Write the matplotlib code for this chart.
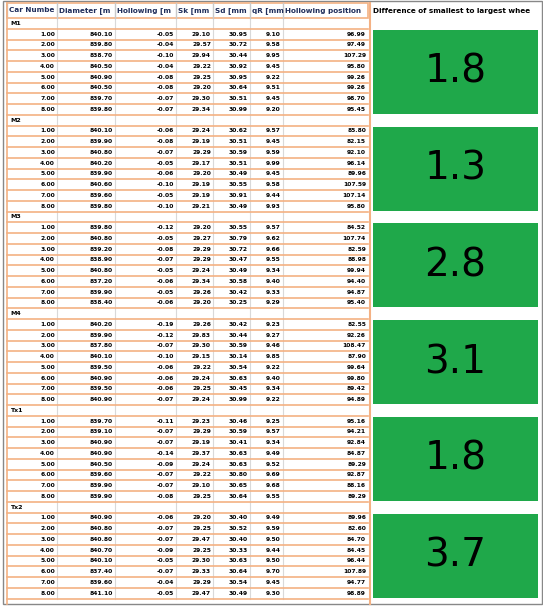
import matplotlib.pyplot as plt
import numpy as np

headers = ["Car Numbe", "Diameter [m", "Hollowing [m", "Sk [mm", "Sd [mm", "qR [mm", "Hollowing position"]
diff_header = "Difference of smallest to largest whee"
groups = ["M1", "M2", "M3", "M4", "Tx1", "Tx2"]
differences = [1.8, 1.3, 2.8, 3.1, 1.8, 3.7]

car = [1, 2, 3, 4, 5, 6, 7, 8]
diameter = [
    [840.10, 839.80, 838.70, 840.50, 840.90, 840.50, 839.70, 839.80],
    [840.10, 839.90, 840.80, 840.20, 839.90, 840.60, 839.60, 839.80],
    [839.80, 840.80, 839.20, 838.90, 840.80, 837.20, 839.90, 838.40],
    [840.20, 839.90, 837.80, 840.10, 839.50, 840.90, 839.50, 840.90],
    [839.70, 839.10, 840.90, 840.90, 840.50, 839.60, 839.90, 839.90],
    [840.90, 840.80, 840.80, 840.70, 840.10, 837.40, 839.60, 841.10],
]
hollowing = [
    [-0.05, -0.04, -0.10, -0.04, -0.08, -0.08, -0.07, -0.07],
    [-0.06, -0.08, -0.07, -0.05, -0.06, -0.10, -0.05, -0.10],
    [-0.12, -0.05, -0.08, -0.07, -0.05, -0.06, -0.05, -0.06],
    [-0.19, -0.12, -0.07, -0.10, -0.06, -0.06, -0.06, -0.07],
    [-0.11, -0.07, -0.07, -0.14, -0.09, -0.07, -0.07, -0.08],
    [-0.06, -0.07, -0.07, -0.09, -0.05, -0.07, -0.04, -0.05],
]
sk = [
    [29.10, 29.57, 29.94, 29.22, 29.25, 29.20, 29.30, 29.34],
    [29.24, 29.19, 29.29, 29.17, 29.20, 29.19, 29.19, 29.21],
    [29.20, 29.27, 29.29, 29.29, 29.24, 29.34, 29.26, 29.20],
    [29.26, 29.83, 29.30, 29.15, 29.22, 29.24, 29.25, 29.24],
    [29.23, 29.29, 29.19, 29.37, 29.24, 29.22, 29.10, 29.25],
    [29.20, 29.25, 29.47, 29.25, 29.30, 29.33, 29.29, 29.47],
]
sd = [
    [30.95, 30.72, 30.44, 30.92, 30.95, 30.64, 30.51, 30.99],
    [30.62, 30.51, 30.59, 30.51, 30.49, 30.55, 30.91, 30.49],
    [30.55, 30.79, 30.72, 30.47, 30.49, 30.58, 30.42, 30.25],
    [30.42, 30.44, 30.59, 30.14, 30.54, 30.63, 30.45, 30.99],
    [30.46, 30.59, 30.41, 30.63, 30.63, 30.80, 30.65, 30.64],
    [30.40, 30.52, 30.40, 30.33, 30.63, 30.64, 30.54, 30.49],
]
qr = [
    [9.10, 9.58, 9.95, 9.45, 9.22, 9.51, 9.45, 9.20],
    [9.57, 9.45, 9.59, 9.99, 9.45, 9.58, 9.44, 9.93],
    [9.57, 9.62, 9.66, 9.55, 9.34, 9.40, 9.33, 9.29],
    [9.23, 9.27, 9.46, 9.85, 9.22, 9.40, 9.34, 9.22],
    [9.25, 9.57, 9.34, 9.49, 9.52, 9.69, 9.68, 9.55],
    [9.49, 9.59, 9.50, 9.44, 9.50, 9.70, 9.45, 9.30],
]
position = [
    [96.99, 97.49, 107.29, 95.80, 99.26, 99.26, 98.70, 95.45],
    [85.80, 82.15, 92.10, 96.14, 89.96, 107.59, 107.14, 95.80],
    [84.52, 107.74, 82.59, 88.98, 99.94, 94.40, 94.87, 95.40],
    [82.55, 92.26, 108.47, 87.90, 99.64, 99.80, 89.42, 94.89],
    [95.16, 94.21, 92.84, 84.87, 89.29, 92.87, 88.16, 89.29],
    [89.96, 82.60, 84.70, 84.45, 96.44, 107.89, 94.77, 98.89],
]

W, H = 543, 608
fig = plt.figure(figsize=(W / 100, H / 100), dpi=100)
ax = fig.add_axes([0, 0, 1, 1])
ax.set_xlim(0, W)
ax.set_ylim(H, 0)
ax.axis("off")

orange = "#f4b183"
green = "#1fa84a"
cols = [7, 57, 115, 176, 213, 250, 283, 368]
dcol = (370, 541)
top, head_h = 3, 15
row_h = 10.75
grp_h = 9 * row_h

# outer frame
ax.add_patch(plt.Rectangle((3, 1), 539, 603, fill=False, ec="#888888", lw=1))

# header
ax.add_patch(plt.Rectangle((cols[0], top), cols[-1] - cols[0], head_h, fc="white", ec=orange, lw=1.2))
for i, h in enumerate(headers):
    ax.plot([cols[i], cols[i]], [top, top + head_h], color="#c9c9c9", lw=1)
    ax.text(cols[i] + 2, top + head_h / 2, h, fontsize=5.2, fontweight="bold",
            color="#1f2d5a", va="center", ha="left", family="DejaVu Sans")
ax.text(dcol[0] + 3, top + head_h / 2, diff_header, fontsize=5.2, fontweight="bold",
        va="center", ha="left")
ax.plot([dcol[0], dcol[0]], [top, 604], color=orange, lw=1.5)

y0 = top + head_h
for g, name in enumerate(groups):
    gy = y0 + g * grp_h
    ax.text(cols[0] + 3, gy + row_h / 2, name, fontsize=4.5, fontweight="bold", va="center")
    for c in cols[1:-1]:
        ax.plot([c, c], [gy, gy + grp_h], color="#d9d9d9", lw=0.8, zorder=0)
    ax.plot([cols[0], cols[-1]], [gy + row_h, gy + row_h], color=orange, lw=1.2)
    for r in range(8):
        ry = gy + (r + 1) * row_h
        vals = [f"{car[r]:.2f}", f"{diameter[g][r]:.2f}", f"{hollowing[g][r]:.2f}",
                f"{sk[g][r]:.2f}", f"{sd[g][r]:.2f}", f"{qr[g][r]:.2f}", f"{position[g][r]:.2f}"]
        for i, v in enumerate(vals):
            ax.text(cols[i + 1] - 2, ry + row_h / 2, v, fontsize=4.3, fontweight="bold",
                    va="center", ha="right")
        ax.plot([cols[0], cols[-1]], [ry + row_h, ry + row_h], color=orange, lw=1.2)
    # green difference block
    ax.add_patch(plt.Rectangle((dcol[0] + 3, gy + row_h + 1), dcol[1] - dcol[0] - 6,
                               8 * row_h - 2, fc=green, ec="none"))
    ax.text((dcol[0] + dcol[1]) / 2, gy + row_h + 4 * row_h, f"{differences[g]:.1f}",
            fontsize=28, ha="center", va="center", color="black")

ax.plot([cols[0], cols[0]], [top, 604], color=orange, lw=1.2)
fig.savefig("out.png", dpi=100)
